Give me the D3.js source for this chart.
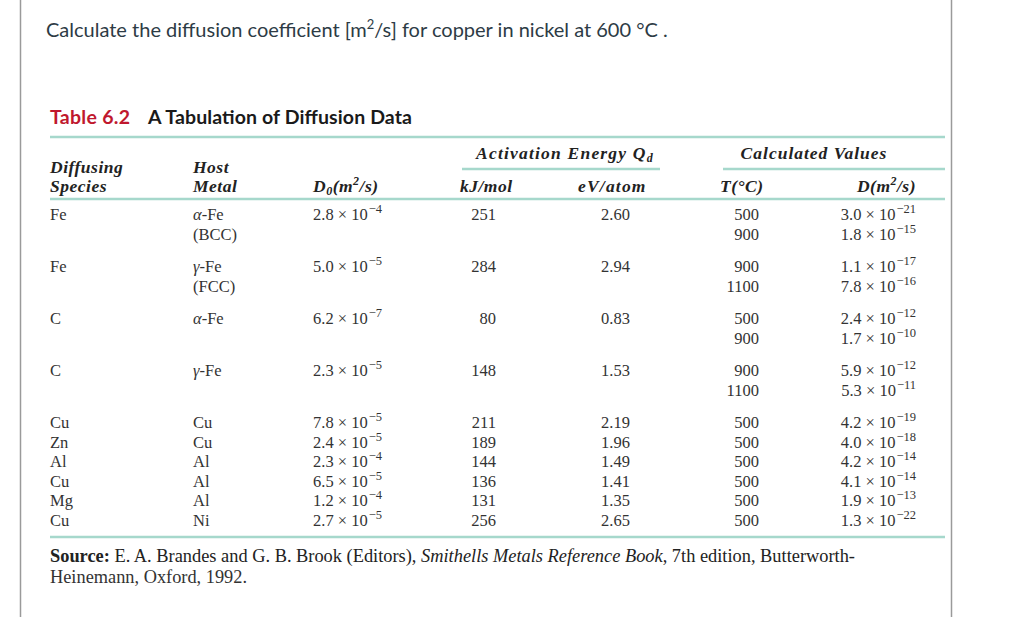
<!DOCTYPE html>
<html><head><meta charset="utf-8">
<script src="https://cdn.jsdelivr.net/npm/d3@7"></script>
<style>html,body{margin:0;padding:0;background:#fff;}svg{display:block;}</style>
</head><body>
<script>
// ---- data ----
const species = ["Fe","Fe","C","C","Cu","Zn","Al","Cu","Mg","Cu"];
const hosts = [["α-Fe","(BCC)"],["γ-Fe","(FCC)"],["α-Fe"],["γ-Fe"],["Cu"],["Cu"],["Al"],["Al"],["Al"],["Ni"]];
const d0Mant = ["2.8","5.0","6.2","2.3","7.8","2.4","2.3","6.5","1.2","2.7"];
const d0Exp = [-4,-5,-7,-5,-5,-5,-4,-5,-4,-5];
const qKJ = [251,284,80,148,211,189,144,136,131,256];
const qEV = ["2.60","2.94","0.83","1.53","2.19","1.96","1.49","1.41","1.35","2.65"];
const temps = [[500,900],[900,1100],[500,900],[900,1100],[500],[500],[500],[500],[500],[500]];
const dMant = [["3.0","1.8"],["1.1","7.8"],["2.4","1.7"],["5.9","5.3"],["4.2"],["4.0"],["4.2"],["4.1"],["1.9"],["1.3"]];
const dExp = [[-21,-15],[-17,-16],[-12,-10],[-12,-11],[-19],[-18],[-14],[-14],[-13],[-22]];

const W=1011,H=617;
const svg=d3.select("body").append("svg").attr("width",W).attr("height",H);
svg.append("rect").attr("width",W).attr("height",H).attr("fill","#fff");
// frame lines
svg.append("line").attr("x1",20.5).attr("x2",20.5).attr("y1",0).attr("y2",H).attr("stroke","#9a9a9a").attr("stroke-width",1.5);
svg.append("line").attr("x1",951.5).attr("x2",951.5).attr("y1",0).attr("y2",H).attr("stroke","#9a9a9a").attr("stroke-width",1.5);

// question
const q=svg.append("text").attr("x",46).attr("y",37).attr("font-family","Lato").attr("font-size",20).attr("fill","#2d3b45");
q.append("tspan").text("Calculate the diffusion coefficient [m");
q.append("tspan").attr("dy",-8).attr("font-size",13).text("2");
q.append("tspan").attr("dy",8).text("/s] for copper in nickel at 600 °C .");

// caption
const cap=svg.append("text").attr("x",50).attr("y",124).attr("font-family","Lato").attr("font-weight","bold").attr("font-size",19.5);
cap.append("tspan").attr("fill","#c0182e").attr("textLength",80).text("Table 6.2");
cap.append("tspan").attr("x",148).attr("fill","#1a1a1a").attr("textLength",264).text("A Tabulation of Diffusion Data");

const teal="#a6d8cc";
const rule=(x1,x2,y,w)=>svg.append("line").attr("x1",x1).attr("x2",x2).attr("y1",y).attr("y2",y).attr("stroke",teal).attr("stroke-width",w);
rule(50,945,137,2.5);
rule(462,660,169,2.5);
rule(723,945,169,2.5);
rule(50,945,199,2.5);
rule(50,945,537,2.5);

const serif="'Liberation Serif','Times New Roman',serif";
const txtCol="#333";
const hdr=(x,y,anchor)=>svg.append("text").attr("x",x).attr("y",y).attr("text-anchor",anchor||"start")
  .attr("font-family",serif).attr("font-weight","bold").attr("font-style","italic").attr("font-size",17.5)
  .attr("letter-spacing",0.5).attr("fill","#222");

hdr(50,173).text("Diffusing");
hdr(50,192).text("Species");
hdr(193,173).text("Host");
hdr(193,192).text("Metal");
let t=hdr(313,192); t.append("tspan").text("D"); t.append("tspan").attr("dy",3).attr("font-size",12).text("0"); t.append("tspan").attr("dy",-3).text("(m"); t.append("tspan").attr("dy",-7).attr("font-size",12).text("2"); t.append("tspan").attr("dy",7).text("/s)");
t=hdr(565,159,"middle").attr("letter-spacing",1.2); t.append("tspan").text("Activation Energy Q"); t.append("tspan").attr("dy",3).attr("font-size",12).text("d");
hdr(814,159,"middle").attr("letter-spacing",1).text("Calculated Values");
hdr(460,192).text("kJ/mol");
hdr(578,192).attr("letter-spacing",1.2).text("eV/atom");
hdr(720,192).text("T(°C)");
t=hdr(916,192,"end"); t.append("tspan").text("D(m"); t.append("tspan").attr("dy",-7).attr("font-size",12).text("2"); t.append("tspan").attr("dy",7).text("/s)");

// row positions
const lineH=20, gap=12, single=19.5;
const rowY=[]; let acc=0;
temps.forEach((tt,i)=>{ rowY.push(acc); acc += tt.length>1 ? tt.length*lineH+gap : single; });
const y=d3.scaleLinear().domain([0,1]).range([220,221]);
const col={sp:50,host:193,d0:313,kj:496,ev:601,T:759,D:916};

const cell=(x,yy,anchor)=>svg.append("text").attr("x",x).attr("y",yy).attr("text-anchor",anchor||"start")
  .attr("font-family",serif).attr("font-size",16.5).attr("fill",txtCol);
const sci=(x,yy,m,e,anchor)=>{const s=cell(x,yy,anchor); s.append("tspan").text(m+" × 10"); s.append("tspan").attr("dy",-7).attr("dx",1).attr("font-size",12.5).text("−"+Math.abs(e)); return s;};

species.forEach((sp,i)=>{
  const y0=y(rowY[i]);
  cell(col.sp,y0).text(sp);
  hosts[i].forEach((h,j)=>{
    const c=cell(col.host,y0+j*lineH);
    const g=h.match(/^([αγ])(.*)$/);
    if(g){c.append("tspan").attr("font-style","italic").text(g[1]);c.append("tspan").text(g[2]);} else c.text(h);
  });
  sci(col.d0,y0,d0Mant[i],d0Exp[i]);
  cell(col.kj,y0,"end").text(qKJ[i]);
  cell(col.ev,y0).text(qEV[i]);
  temps[i].forEach((tv,j)=>{
    cell(col.T,y0+j*lineH,"end").text(tv);
    sci(col.D,y0+j*lineH,dMant[i][j],dExp[i][j],"end");
  });
});

// source
const s1=svg.append("text").attr("x",50).attr("y",562).attr("font-family",serif).attr("font-size",18).attr("fill","#222")
  .attr("textLength",805).attr("lengthAdjust","spacingAndGlyphs");
s1.append("tspan").attr("font-weight","bold").text("Source:");
s1.append("tspan").text(" E. A. Brandes and G. B. Brook (Editors), ");
s1.append("tspan").attr("font-style","italic").text("Smithells Metals Reference Book");
s1.append("tspan").text(", 7th edition, Butterworth-");
svg.append("text").attr("x",50).attr("y",583).attr("font-family",serif).attr("font-size",18).attr("fill","#333")
  .attr("textLength",197).attr("lengthAdjust","spacingAndGlyphs").text("Heinemann, Oxford, 1992.");
</script>
</body></html>
